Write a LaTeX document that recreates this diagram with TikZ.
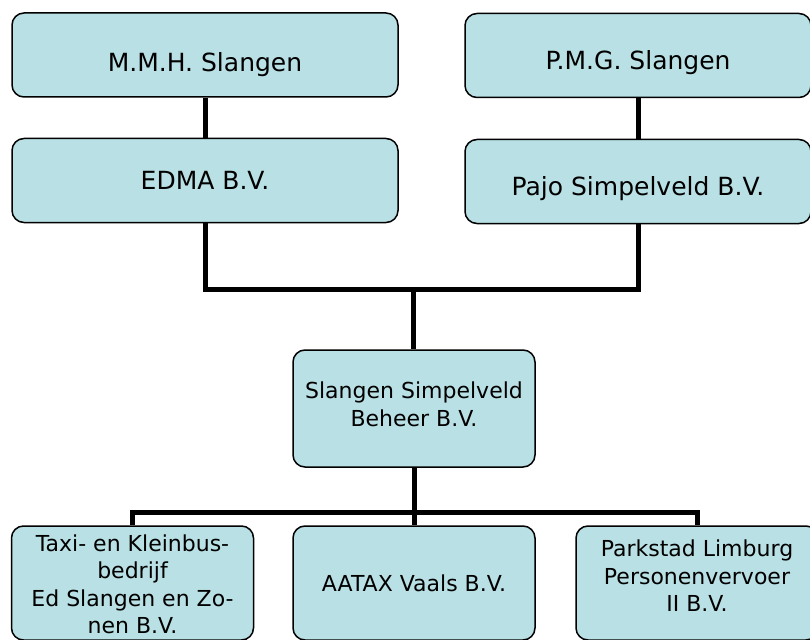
\documentclass[tikz,border=0pt]{standalone}
\usepackage{fontspec}
\setmainfont{DejaVu Sans}
\usepackage{tikz}
\usetikzlibrary{positioning}
\definecolor{boxblue}{RGB}{185,224,228}
% invisible struts to nudge the text inside a box
\newcommand{\padtop}[1]{\rule{0pt}{#1}}
\newcommand{\padbot}[1]{\rule[-#1]{0pt}{#1}}
\tikzset{
org/.style={draw=black,line width=1.5pt,fill=boxblue,rounded corners=12pt,align=center,inner sep=0pt},
toprow/.style={org,minimum height=84pt,font=\fontsize{25}{30}\selectfont},
lowrow/.style={org,minimum width=242pt,font=\fontsize{22}{27.5}\selectfont},
link/.style={line width=5pt}
}

\begin{document}
\begin{tikzpicture}[x=1pt,y=1pt]
\useasboundingbox (0,0) rectangle (810,-639);
\clip (0,0) rectangle (810,-639);
\node[toprow,minimum width=386pt] (MMH) at (205,-55) {\padtop{39pt}M.M.H. Slangen};
\node[toprow,minimum width=386pt] (EDMA) at (205,-180.5) {EDMA B.V.};
\node[toprow,minimum width=346pt] (PMG) at (638,-55.5) {\padtop{33pt}P.M.G. Slangen};
\node[toprow,minimum width=346pt] (PAJO) at (638,-181.5) {\padtop{33pt}Pajo Simpelveld B.V.};
\node[lowrow,minimum height=117pt] (SSB) at (414,-408.5) {Slangen Simpelveld\\Beheer B.V.\padbot{9pt}};
\node[lowrow,minimum height=114pt] (TAXI) at (132.5,-583) {\padtop{19pt}Taxi- en Kleinbus-\\bedrijf\\Ed Slangen en Zo-\\nen B.V.};
\node[lowrow,minimum height=114pt] (AATAX) at (414,-583) {AATAX Vaals B.V.};
\node[lowrow,minimum height=114pt] (PARK) at (697,-583) {Parkstad Limburg\\Personenvervoer\\II B.V.\padbot{14pt}};
\coordinate (TOPBAR) at (413,-289);
\coordinate (LOWBAR) at (414,-512);
\draw[link] (MMH) -- (EDMA);
\draw[link] (PMG) -- (PAJO);
\draw[link] (EDMA.south) |- (TOPBAR) -| (PAJO.south);
\draw[link] (TOPBAR) -- (TOPBAR |- SSB.north);
\draw[link] (SSB.south) -- (AATAX.north);
\draw[link] (TAXI.north) |- (LOWBAR) -| (PARK.north);
\end{tikzpicture}
\end{document}
